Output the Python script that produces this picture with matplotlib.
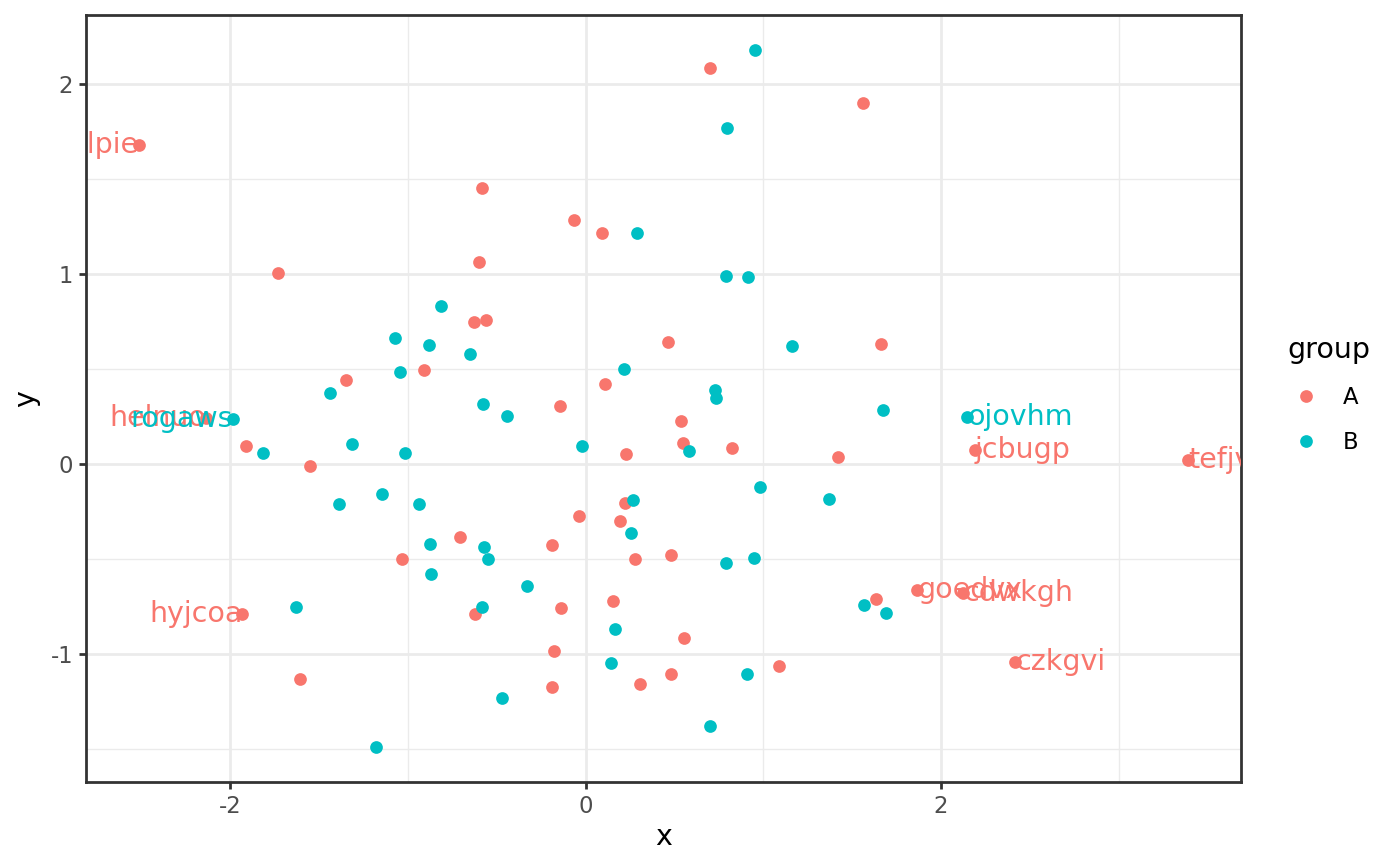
import numpy as np
import matplotlib
matplotlib.use('Agg')
from matplotlib import pyplot as plt
from matplotlib.lines import Line2D

plt.rcParams['axes.unicode_minus'] = False

# - Data

a_x = [0.702, 1.562, -2.517, -0.584, -0.067, 0.090, -1.730, -0.601, -0.629, -0.562,
       1.663, 0.466, -1.348, -0.910, 0.107, -0.146, -2.135, 0.539, -1.910, 0.545,
       0.826, 0.225, 2.191, 1.421, -1.551, 3.393, -0.039, 0.191, 0.219, -0.708,
       -0.191, -1.034, 0.478, 0.275, 1.865, 2.124, 1.635, -1.933, 0.152, -0.140,
       -0.624, -0.180, 0.551, 1.090, 2.416, -1.607, 0.478, 0.303, -0.191]
a_y = [2.082, 1.899, 1.678, 1.448, 1.280, 1.212, 1.002, 1.059, 0.745, 0.755,
       0.629, 0.640, 0.441, 0.493, 0.420, 0.304, 0.241, 0.226, 0.094, 0.110,
       0.084, 0.052, 0.073, 0.037, -0.010, 0.021, -0.273, -0.299, -0.205, -0.383,
       -0.425, -0.503, -0.477, -0.498, -0.666, -0.682, -0.713, -0.792, -0.719, -0.760,
       -0.792, -0.986, -0.918, -1.065, -1.044, -1.133, -1.107, -1.159, -1.175]

b_x = [0.955, 0.798, 0.287, 0.787, 0.916, -0.815, -1.073, -0.882, -0.652, 1.163,
       -1.045, 0.213, 0.730, 0.736, -1.438, 1.674, 2.146, -1.983, -0.579, -0.444,
       -1.315, -0.022, -1.017, 0.579, -1.815, 0.983, 1.371, -1.146, -1.388, -0.938,
       0.264, 0.253, -0.876, -0.573, -0.551, -0.871, 0.949, 0.787, -0.331, 1.567,
       1.691, -1.629, -0.584, 0.163, 0.140, 0.910, -0.472, 0.697, -1.180]
b_y = [2.177, 1.767, 1.212, 0.986, 0.981, 0.829, 0.661, 0.624, 0.577, 0.619,
       0.483, 0.498, 0.388, 0.346, 0.372, 0.283, 0.247, 0.236, 0.315, 0.252,
       0.105, 0.094, 0.058, 0.068, 0.058, -0.121, -0.184, -0.157, -0.210, -0.210,
       -0.189, -0.362, -0.420, -0.435, -0.503, -0.577, -0.493, -0.519, -0.640, -0.740,
       -0.787, -0.755, -0.755, -0.871, -1.049, -1.107, -1.232, -1.379, -1.490]

# labelled points: index into the group arrays
a_lab_idx = [2, 16, 22, 25, 34, 35, 37, 44]
a_lab_txt = ['xulpie', 'helnuo', 'jcbugp', 'tefjvw', 'goedvx', 'cdwkgh', 'hyjcoa', 'czkgvi']
b_lab_idx = [16, 17]
b_lab_txt = ['ojovhm', 'rogaws']

col_a = '#F8766D'
col_b = '#00BFC4'

# - Plot

W, H, DPI = 1400, 866, 186.67
fig = plt.figure(figsize=(W / DPI, H / DPI), dpi=DPI)
ax = fig.add_axes([86 / W, (H - 782) / H, (1241 - 86) / W, (782 - 15) / H])

all_x = np.array(a_x + b_x)
all_y = np.array(b_y + a_y)
ex = (all_x.max() - all_x.min()) * 0.05
ey = (all_y.max() - all_y.min()) * 0.05
ax.set_xlim(all_x.min() - ex, all_x.max() + ex)
ax.set_ylim(all_y.min() - ey, all_y.max() + ey)

ax.set_xticks([-2, 0, 2])
ax.set_xticks([-1, 1, 3], minor=True)
ax.set_yticks([-1, 0, 1, 2])
ax.set_yticks([-1.5, -0.5, 0.5, 1.5], minor=True)
ax.grid(True, which='major', color='#EBEBEB', linewidth=1.07, zorder=0)
ax.grid(True, which='minor', color='#EBEBEB', linewidth=0.53, zorder=0)
ax.set_axisbelow(True)
ax.tick_params(which='major', length=2.75, width=1.07, color='#333333',
               labelsize=8.8, labelcolor='#4D4D4D', pad=2.2)
ax.tick_params(which='minor', length=0)
for s in ax.spines.values():
    s.set_color('#333333')
    s.set_linewidth(1.07)

ms = 4.9
ax.plot(a_x, a_y, 'o', color=col_a, ms=ms, mew=0, zorder=3)
ax.plot(b_x, b_y, 'o', color=col_b, ms=ms, mew=0, zorder=3)

mid = sum(ax.get_xlim()) / 2
for idx, txt in zip(a_lab_idx, a_lab_txt):
    ha = 'right' if a_x[idx] < mid else 'left'
    ax.text(a_x[idx], a_y[idx], txt, color=col_a, fontsize=11, ha=ha, va='center',
            clip_on=True, zorder=4)
for idx, txt in zip(b_lab_idx, b_lab_txt):
    ha = 'right' if b_x[idx] < mid else 'left'
    ax.text(b_x[idx], b_y[idx], txt, color=col_b, fontsize=11, ha=ha, va='center',
            clip_on=True, zorder=5)

ax.set_xlabel('x', fontsize=11, labelpad=2)
ax.set_ylabel('y', fontsize=11, labelpad=4)

handles = [Line2D([], [], ls='', marker='o', ms=ms, mew=0, color=col_a),
           Line2D([], [], ls='', marker='o', ms=ms, mew=0, color=col_b)]
leg = fig.legend(handles, ['A', 'B'], title='group', loc='upper left',
                 bbox_to_anchor=(1269 / W, 1 - 318 / H), frameon=False,
                 fontsize=8.8, title_fontsize=11, alignment='left',
                 handlelength=1.6, handletextpad=0.85, labelspacing=0.95,
                 borderpad=0.3)

fig.savefig('out.png', dpi=DPI)
